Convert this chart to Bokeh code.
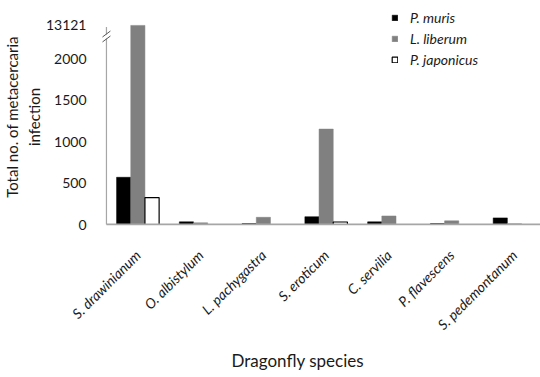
import math
from bokeh.plotting import figure
from bokeh.models import (ColumnDataSource, Range1d, FixedTicker, Legend, LegendItem, Title)
from bokeh.embed import file_html
from bokeh.resources import INLINE

# ---- data ----
categories = ["S. drawinianum", "O. albistylum", "L. pachygastra", "S. eroticum",
              "C. servilia", "P. flavescens", "S. pedemontanum"]
series_names = ["P. muris", "L. liberum", "P. japonicus"]
p_muris = [570, 32, 12, 94, 32, 12, 80]
l_liberum = [13121, 20, 87, 1152, 103, 44, 10]
p_japonicus = [325, 0, 0, 30, 0, 0, 0]
y_ticks = [0, 500, 1000, 1500, 2000]

# ---- broken axis transform (values above the break are compressed) ----
BREAK_AT = 2250
TOP_VALUE = max(l_liberum)
TOP_DISPLAY = 2404
def disp(v):
    if v <= BREAK_AT:
        return v
    return BREAK_AT + (v - BREAK_AT) * (TOP_DISPLAY - BREAK_AT) / (TOP_VALUE - BREAK_AT)

FONT = "Lato"
n = len(categories)
centers = [i + 0.5 for i in range(n)]
bw = 0.226

W, H = 540, 377
p = figure(width=W, height=H, output_backend="svg", toolbar_location=None,
           x_range=Range1d(-0.095, 6.915), y_range=Range1d(-12, 2608),
           min_border_left=97, min_border_right=0, min_border_top=8, min_border_bottom=H - 226)
p.outline_line_color = None
p.grid.grid_line_color = None
p.background_fill_color = "white"

fills = ["#000000", "#808080", "#ffffff"]
lines = ["#000000", "#808080", "#000000"]
renderers = []
for k, (vals, name) in enumerate(zip([p_muris, l_liberum, p_japonicus], series_names)):
    src = ColumnDataSource(dict(x=[c + (k - 1) * bw for c in centers],
                                top=[disp(v) for v in vals],
                                value=vals))
    r = p.vbar(x="x", top="top", bottom=0, width=bw, source=src,
               fill_color=fills[k], line_color=lines[k], line_width=1.2 if k == 2 else 0.5)
    renderers.append(r)

# axis lines drawn as glyphs (to allow the break mark)
AX_COL = "#a6a6a6"
x_end = n
p.segment(x0=[0], y0=[0], x1=[x_end], y1=[0], line_color=AX_COL, line_width=2)
p.segment(x0=[0], y0=[0], x1=[0], y1=[disp(TOP_VALUE) - 20], line_color=AX_COL, line_width=1.2)
# break mark
yb = disp(BREAK_AT) + 20
px_x = 1 / 63.2
px_y = 12.0
p.quad(left=[-4 * px_x], right=[4 * px_x], bottom=[yb - 2 * px_y], top=[yb + 2 * px_y],
       fill_color="white", line_color=None)
for dy in (-2.5, 2.5):
    p.segment(x0=[-4 * px_x], y0=[yb + (dy - 3) * px_y], x1=[4 * px_x], y1=[yb + (dy + 3) * px_y],
              line_color="#595959", line_width=1)

# y axis
yt = y_ticks + [disp(TOP_VALUE)]
p.yaxis.ticker = FixedTicker(ticks=yt)
p.yaxis.major_label_overrides = {disp(TOP_VALUE): str(TOP_VALUE)}
p.yaxis.axis_line_color = None
p.yaxis.major_tick_line_color = None
p.yaxis.minor_tick_line_color = None
p.yaxis.major_label_standoff = 8
p.yaxis.major_label_text_font = FONT
p.yaxis.major_label_text_font_size = "14px"
p.yaxis.major_label_text_color = "#1a1a1a"
p.yaxis.axis_label = "Total no. of metacercaria\ninfection"
p.yaxis.axis_label_text_font = FONT
p.yaxis.axis_label_text_font_size = "15px"
p.yaxis.axis_label_text_font_style = "normal"
p.yaxis.axis_label_text_color = "#1a1a1a"
p.yaxis.axis_label_standoff = 0

# x axis
p.xaxis.ticker = FixedTicker(ticks=centers)
p.xaxis.major_label_overrides = {c: name for c, name in zip(centers, categories)}
p.xaxis.axis_line_color = None
p.xaxis.major_tick_line_color = None
p.xaxis.minor_tick_line_color = None
p.xaxis.major_label_orientation = math.pi / 4
p.xaxis.major_label_standoff = 21
p.xaxis.major_label_text_font = FONT
p.xaxis.major_label_text_font_size = "14px"
p.xaxis.major_label_text_font_style = "italic"
p.xaxis.major_label_text_color = "#1a1a1a"

xtitle = Title(text="Dragonfly species", align="left", offset=131, standoff=13,
               text_font=FONT, text_font_size="17px", text_font_style="normal",
               text_color="#1a1a1a")
p.add_layout(xtitle, "below")

legend = Legend(items=[LegendItem(label=nm, renderers=[r]) for nm, r in zip(series_names, renderers)],
                location=(291, 155), glyph_width=7, glyph_height=7, label_height=21,
                spacing=0, padding=0, margin=0, label_standoff=12,
                border_line_color=None, background_fill_alpha=0,
                label_text_font=FONT, label_text_font_size="14px",
                label_text_font_style="italic", label_text_color="#1a1a1a")
p.add_layout(legend)

open("out.html", "w").write(file_html(p, INLINE))
